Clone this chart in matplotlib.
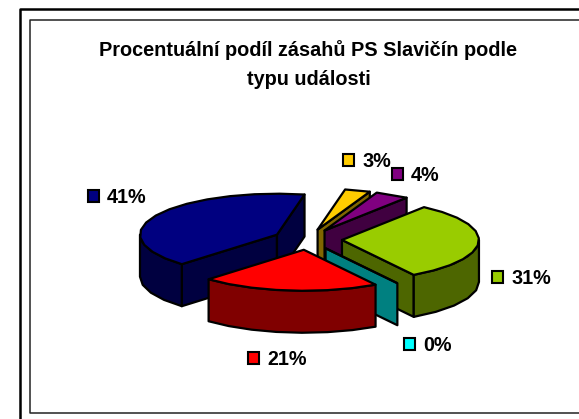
import numpy as np
import matplotlib
matplotlib.use("Agg")
import matplotlib.pyplot as plt

plt.rcParams['font.family'] = ['Liberation Sans', 'DejaVu Sans']

title = "Procentuální podíl zásahů PS Slavičín podle\ntypu události"

# slices in clockwise drawing order, back to front is handled below
values = [41, 3, 4, 31, 0, 21]
labels = ["41%", "3%", "4%", "31%", "0%", "21%"]
top_colors = ["#000080", "#FFCC00", "#800080", "#99CC00", "#00FFFF", "#FF0000"]
side_colors = ["#000040", "#806600", "#400040", "#4D6600", "#008080", "#800000"]

# where each label key sits (left, top of the small square), in pixels
key_pos = [(88, 190), (343, 154), (392, 168), (492, 271), (404, 338), (248, 352)]

START_ANGLE = 224
CX, CY = 307.5, 239.5
RX, RY = 137, 41
EXPLODE = 34.5
DEPTH = 42
EDGE = 1.6


def project(t, r, center):
    # t in degrees clockwise from the back of the pie
    rad = np.radians(t)
    return center[0] + RX * r * np.sin(rad), center[1] - RY * r * np.cos(rad)


def wall(xs, ys, color):
    # extrude the top edge given by xs, ys straight down
    px = np.concatenate([xs, xs[::-1]])
    py = np.concatenate([ys, ys[::-1] + DEPTH])
    ax.fill(px, py, facecolor=color, edgecolor="black", linewidth=EDGE, joinstyle="round")


def draw_slice(t0, t1, top, side):
    mid = (t0 + t1) / 2
    center = project(mid, EXPLODE / RX, (CX, CY))
    steps = max(int((t1 - t0) / 10), 1)
    ts = np.linspace(t0, t1, steps + 1)
    arc_x, arc_y = project(ts, 1, center)

    # radial faces, only when they look towards the viewer
    if np.sin(np.radians(t0)) < 0:
        x, y = project(t0, 1, center)
        wall(np.array([center[0], x]), np.array([center[1], y]), side)
    if np.sin(np.radians(t1)) > 0:
        x, y = project(t1, 1, center)
        wall(np.array([center[0], x]), np.array([center[1], y]), side)

    # outer rim, front part only
    for k in (0, 360):
        a, b = max(t0, 90 + k), min(t1, 270 + k)
        if b > a:
            rim = np.linspace(a, b, max(int((b - a) / 10), 1) + 1)
            rx, ry = project(rim, 1, center)
            wall(rx, ry, side)

    ax.fill(np.r_[center[0], arc_x], np.r_[center[1], arc_y],
            facecolor=top, edgecolor="black", linewidth=EDGE, joinstyle="round")


fig = plt.figure(figsize=(5.79, 4.19), dpi=100)
ax = fig.add_axes([0, 0, 1, 1])
ax.set_xlim(0, 579)
ax.set_ylim(419, 0)
ax.axis("off")

# double frame, open on the right like the source screenshot
ax.plot([579, 19.5, 19.5], [9.5, 9.5, 419], color="black", lw=1.8)
ax.plot([579, 29.5, 29.5, 579], [20.5, 20.5, 412.5, 412.5], color="#222222", lw=1.1)

ax.text(308, 56, title.split("\n")[0], ha="center", va="baseline",
        fontsize=14.3, fontweight="bold")
ax.text(309, 85, title.split("\n")[1], ha="center", va="baseline",
        fontsize=14.3, fontweight="bold")

angles = START_ANGLE + np.cumsum([0] + values) * 3.6
for i in range(len(values)):
    draw_slice(angles[i], angles[i + 1], top_colors[i], side_colors[i])

for (x, y), text, color in zip(key_pos, labels, top_colors):
    ax.add_patch(plt.Rectangle((x, y), 11, 12, facecolor=color, edgecolor="black", linewidth=1.5))
    ax.text(x + 19, y + 13, text, ha="left", va="baseline", fontsize=14.2, fontweight="bold")

fig.savefig("out.png", dpi=100)
